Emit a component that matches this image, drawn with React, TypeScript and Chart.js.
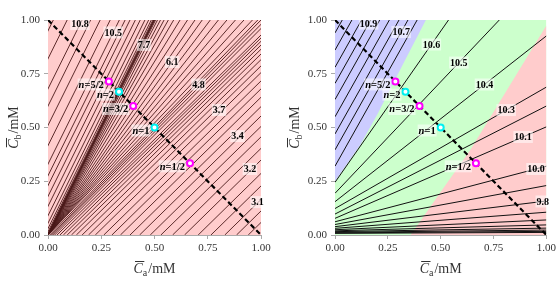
import React, { useEffect, useRef } from 'react';
import { Chart, registerables } from 'chart.js';

Chart.register(...registerables);

// ---------- shared data ----------
const axisTickValues = [0, 0.25, 0.5, 0.75, 1];
const nText = ['5/2', '2', '3/2', '1', '1/2'];
const nCa = [0.2857, 0.3333, 0.4, 0.5, 0.6667];
const nCb = [0.7143, 0.6667, 0.6, 0.5, 0.3333];
const nColor = ['#ff00ff', '#00f0f0', '#ff00ff', '#00f0f0', '#ff00ff'];
const diagCa = [0, 1];
const diagCb = [1, 0];

// ---------- left panel: contour lines given by Ca at Cb=0 (foot) and Ca at Cb=1 (top) ----------
const leftAcidFoot = [0.94, 0.885, 0.83, 0.765, 0.705, 0.641, 0.585, 0.53, 0.48, 0.43, 0.385, 0.34, 0.3, 0.262, 0.222, 0.19, 0.16, 0.133, 0.11, 0.09, 0.072, 0.056, 0.042];
const leftAcidTop = [1.97, 1.915, 1.86, 1.795, 1.735, 1.671, 1.615, 1.56, 1.51, 1.46, 1.415, 1.37, 1.33, 1.292, 1.252, 1.22, 1.19, 1.163, 1.14, 1.12, 1.102, 1.086, 1.072];
const leftMidFoot = [0.031, 0.022, 0.0158, 0.008];
const leftMidTop = [1.04, 1.02, 1.0, 0.985];
const leftRayTop = [0.96, 0.92, 0.88, 0.84, 0.8, 0.762, 0.724, 0.69, 0.655, 0.62, 0.59, 0.565, 0.545, 0.528, 0.514, 0.505, 0.501];
const leftBaseFoot = [-0.0015, -0.0035, -0.0075, -0.015, -0.0275, -0.045, -0.067, -0.09, -0.115, -0.138, -0.165, -0.208, -0.255, -0.3, -0.34, -0.41, -0.475];
const leftBaseTop = [0.4985, 0.4965, 0.4925, 0.485, 0.4725, 0.455, 0.433, 0.41, 0.385, 0.362, 0.335, 0.292, 0.245, 0.2, 0.16, 0.09, 0.025];
const leftLabelText = ['10.8', '10.5', '7.7', '6.1', '4.8', '3.7', '3.4', '3.2', '3.1'];
const leftLabelCa = [0.15, 0.306, 0.451, 0.583, 0.707, 0.803, 0.89, 0.948, 0.984];
const leftLabelCb = [0.981, 0.942, 0.884, 0.805, 0.7, 0.581, 0.46, 0.307, 0.153];

// ---------- right panel: contour lines given by Cb at Ca=0 and Cb at Ca=1 ----------
const rightLineAtZero = [0.0077, 0.0097, 0.0123, 0.0155, 0.0194, 0.0245, 0.031, 0.0388, 0.0488, 0.0615, 0.0774, 0.0974, 0.123, 0.155, 0.194, 0.245];
const rightLineAtOne = [0.012, 0.017, 0.023, 0.032, 0.047, 0.07, 0.106, 0.158, 0.23, 0.32, 0.503, 0.6, 0.688, 0.926, 1.231, 1.651];
const rightBlueAtZero = [0.32, 0.396, 0.47, 0.55, 0.63, 0.705, 0.78, 0.86, 0.94];
const rightBlueAtOne = [2.07, 2.146, 2.22, 2.3, 2.38, 2.455, 2.53, 2.61, 2.69];
const rightLabelText = ['10.9', '10.7', '10.6', '10.5', '10.4', '10.3', '10.1', '10.0', '9.8'];
const rightLabelCa = [0.159, 0.313, 0.456, 0.586, 0.707, 0.81, 0.89, 0.951, 0.983];
const rightLabelCb = [0.983, 0.944, 0.886, 0.802, 0.7, 0.581, 0.456, 0.307, 0.156];
const blueEdgeCa = [0, 0.12, 0.2, 0.33, 0.43];
const blueEdgeCb = [0.25, 0.42, 0.56, 0.81, 1.0];
const redEdgeCa = [0.358, 0.49, 0.64, 1.0];
const redEdgeCb = [0, 0.186, 0.395, 0.975];

const PINK = '#ffcccc';
const GREEN = '#ccffcc';
const BLUE = '#ccccff';
const SERIF = '"Liberation Serif", "Times New Roman", serif';

type Pt = { x: number; y: number };
type Region = { color: string; poly: Pt[] };
type Label = { text: string; x: number; y: number };
type PanelCfg = {
  lines: Pt[][];
  lineColor: string;
  lineWidth: number;
  regions: Region[];
  labels: Label[];
  yAxisWidth: number;
  yTitleX: number;
  rightPad: number;
  width: number;
  left: number;
};

function zip(xs: number[], ys: number[]): Pt[] {
  return xs.map((x, i) => ({ x, y: ys[i] }));
}

const leftLines: Pt[][] = [
  ...leftAcidFoot.map((f, i) => [{ x: f, y: 0 }, { x: leftAcidTop[i], y: 1 }]),
  ...leftMidFoot.map((f, i) => [{ x: f, y: 0 }, { x: leftMidTop[i], y: 1 }]),
  ...leftRayTop.map((t) => [{ x: 0, y: 0 }, { x: t, y: 1 }]),
  ...leftBaseFoot.map((f, i) => [{ x: f, y: 0 }, { x: leftBaseTop[i], y: 1 }]),
];
const rightLines: Pt[][] = [
  ...rightLineAtZero.map((a, i) => [{ x: 0, y: a }, { x: 1, y: rightLineAtOne[i] }]),
  ...rightBlueAtZero.map((a, i) => [{ x: 0, y: a }, { x: 1, y: rightBlueAtOne[i] }]),
];

const leftCfg: PanelCfg = {
  lines: leftLines,
  lineColor: '#4a1818',
  lineWidth: 0.9,
  regions: [{ color: PINK, poly: [{ x: 0, y: 0 }, { x: 1, y: 0 }, { x: 1, y: 1 }, { x: 0, y: 1 }] }],
  labels: leftLabelText.map((t, i) => ({ text: t, x: leftLabelCa[i], y: leftLabelCb[i] })),
  yAxisWidth: 48,
  yTitleX: 13,
  rightPad: 19,
  width: 280,
  left: 0,
};

const rightCfg: PanelCfg = {
  lines: rightLines,
  lineColor: '#111111',
  lineWidth: 1,
  regions: [
    { color: GREEN, poly: [{ x: 0, y: 0 }, { x: 1, y: 0 }, { x: 1, y: 1 }, { x: 0, y: 1 }] },
    { color: BLUE, poly: [...zip(blueEdgeCa, blueEdgeCb), { x: 0, y: 1 }] },
    { color: PINK, poly: [...zip(redEdgeCa, redEdgeCb), { x: 1, y: 0 }] },
  ],
  labels: rightLabelText.map((t, i) => ({ text: t, x: rightLabelCa[i], y: rightLabelCb[i] })),
  yAxisWidth: 55,
  yTitleX: 14,
  rightPad: 10,
  width: 279,
  left: 280,
};

function drawAxisTitle(ctx: CanvasRenderingContext2D, cx: number, cy: number, sub: string, rotate: boolean) {
  ctx.save();
  ctx.translate(cx, cy);
  if (rotate) ctx.rotate(-Math.PI / 2);
  ctx.fillStyle = '#333';
  ctx.strokeStyle = '#333';
  ctx.textBaseline = 'alphabetic';
  ctx.textAlign = 'left';
  const main = `italic 14px ${SERIF}`;
  const subF = `10px ${SERIF}`;
  const rest = `14px ${SERIF}`;
  ctx.font = main;
  const wC = ctx.measureText('C').width;
  ctx.font = subF;
  const wS = ctx.measureText(sub).width;
  ctx.font = rest;
  const wR = ctx.measureText('/mM').width;
  const total = wC + wS + wR + 1;
  let x = -total / 2;
  const base = 5;
  ctx.font = main;
  ctx.fillText('C', x, base);
  ctx.lineWidth = 1;
  ctx.beginPath();
  ctx.moveTo(x + 1.5, base - 11.5);
  ctx.lineTo(x + wC + 1.5, base - 11.5);
  ctx.stroke();
  x += wC;
  ctx.font = subF;
  ctx.fillText(sub, x, base + 3);
  x += wS + 1;
  ctx.font = rest;
  ctx.fillText('/mM', x, base);
  ctx.restore();
}

function drawBoxedText(ctx: CanvasRenderingContext2D, parts: { t: string; f: string }[], x: number, y: number, align: 'center' | 'right') {
  let w = 0;
  for (const p of parts) {
    ctx.font = p.f;
    w += ctx.measureText(p.t).width;
  }
  let sx = align === 'center' ? x - w / 2 : x - w;
  ctx.fillStyle = 'rgba(255,255,255,0.55)';
  ctx.fillRect(sx - 1, y - 6, w + 2, 12);
  ctx.fillStyle = '#000';
  ctx.textBaseline = 'middle';
  ctx.textAlign = 'left';
  for (const p of parts) {
    ctx.font = p.f;
    ctx.fillText(p.t, sx, y + 0.5);
    sx += ctx.measureText(p.t).width;
  }
}

function Panel({ cfg }: { cfg: PanelCfg }) {
  const ref = useRef<HTMLCanvasElement | null>(null);
  useEffect(() => {
    const canvas = ref.current;
    if (!canvas) return;
    const bgPlugin = {
      id: 'regionsBg',
      beforeDatasetsDraw(chart: any) {
        const { ctx, chartArea, scales } = chart;
        ctx.save();
        ctx.beginPath();
        ctx.rect(chartArea.left, chartArea.top, chartArea.right - chartArea.left, chartArea.bottom - chartArea.top);
        ctx.clip();
        for (const r of cfg.regions) {
          ctx.fillStyle = r.color;
          ctx.beginPath();
          r.poly.forEach((p, i) => {
            const px = scales.x.getPixelForValue(p.x);
            const py = scales.y.getPixelForValue(p.y);
            if (i === 0) ctx.moveTo(px, py);
            else ctx.lineTo(px, py);
          });
          ctx.closePath();
          ctx.fill();
        }
        ctx.restore();
      },
    };
    const labelPlugin = {
      id: 'contourLabels',
      afterDatasetsDraw(chart: any) {
        const { ctx, scales } = chart;
        ctx.save();
        for (const l of cfg.labels) {
          drawBoxedText(ctx, [{ t: l.text, f: `bold 10px ${SERIF}` }], scales.x.getPixelForValue(l.x), scales.y.getPixelForValue(l.y), 'center');
        }
        nText.forEach((t, i) => {
          const px = scales.x.getPixelForValue(nCa[i]);
          const py = scales.y.getPixelForValue(nCb[i]);
          drawBoxedText(
            ctx,
            [
              { t: 'n', f: `italic bold 10.5px ${SERIF}` },
              { t: '=' + t, f: `bold 10.5px ${SERIF}` },
            ],
            px - 5,
            py + 3,
            'right'
          );
        });
        ctx.restore();
      },
      afterDraw(chart: any) {
        const { ctx, chartArea } = chart;
        drawAxisTitle(ctx, (chartArea.left + chartArea.right) / 2, 268, 'a', false);
        drawAxisTitle(ctx, cfg.yTitleX, (chartArea.top + chartArea.bottom) / 2, 'b', true);
      },
    };

    const datasets: any[] = [
      {
        data: zip(nCa, nCb),
        pointRadius: 3,
        pointBorderWidth: 2,
        pointBackgroundColor: '#ffffff',
        pointBorderColor: nColor,
        showLine: false,
      },
      {
        data: zip(diagCa, diagCb),
        showLine: true,
        borderColor: '#000',
        borderWidth: 2.2,
        borderDash: [5, 3],
        pointRadius: 0,
      },
      ...cfg.lines.map((ln) => ({
        data: ln,
        showLine: true,
        borderColor: cfg.lineColor,
        borderWidth: cfg.lineWidth,
        pointRadius: 0,
      })),
    ];

    const tickFont = { family: SERIF, size: 11 };
    const chart = new Chart(canvas, {
      type: 'scatter',
      data: { datasets },
      options: {
        animation: false,
        responsive: false,
        devicePixelRatio: 1,
        layout: { padding: { top: 20, right: cfg.rightPad, left: 0, bottom: 0 } },
        plugins: { legend: { display: false }, tooltip: { enabled: false } },
        scales: {
          x: {
            type: 'linear',
            min: 0,
            max: 1,
            afterBuildTicks: (s: any) => {
              s.ticks = axisTickValues.map((v) => ({ value: v }));
            },
            afterFit: (s: any) => {
              s.height = 57;
            },
            ticks: { callback: (v: any) => Number(v).toFixed(2), font: tickFont, color: '#333', padding: 3, maxRotation: 0 },
            grid: { drawOnChartArea: false, tickLength: 4, color: '#aaa' },
            border: { color: '#aaa' },
          },
          y: {
            type: 'linear',
            min: 0,
            max: 1,
            afterBuildTicks: (s: any) => {
              s.ticks = axisTickValues.map((v) => ({ value: v }));
            },
            afterFit: (s: any) => {
              s.width = cfg.yAxisWidth;
            },
            ticks: { callback: (v: any) => Number(v).toFixed(2), font: tickFont, color: '#333', padding: 4 },
            grid: { drawOnChartArea: false, tickLength: 4, color: '#aaa' },
            border: { color: '#aaa' },
          },
        },
      } as any,
      plugins: [bgPlugin, labelPlugin],
    });
    return () => chart.destroy();
  }, [cfg]);
  return (
    <canvas
      ref={ref}
      width={cfg.width}
      height={292}
      style={{ position: 'absolute', left: cfg.left, top: 0, width: cfg.width, height: 292 }}
    />
  );
}

export default function App() {
  return (
    <div style={{ position: 'fixed', left: 0, top: 0, width: 559, height: 292, background: '#fff' }}>
      <Panel cfg={leftCfg} />
      <Panel cfg={rightCfg} />
    </div>
  );
}
